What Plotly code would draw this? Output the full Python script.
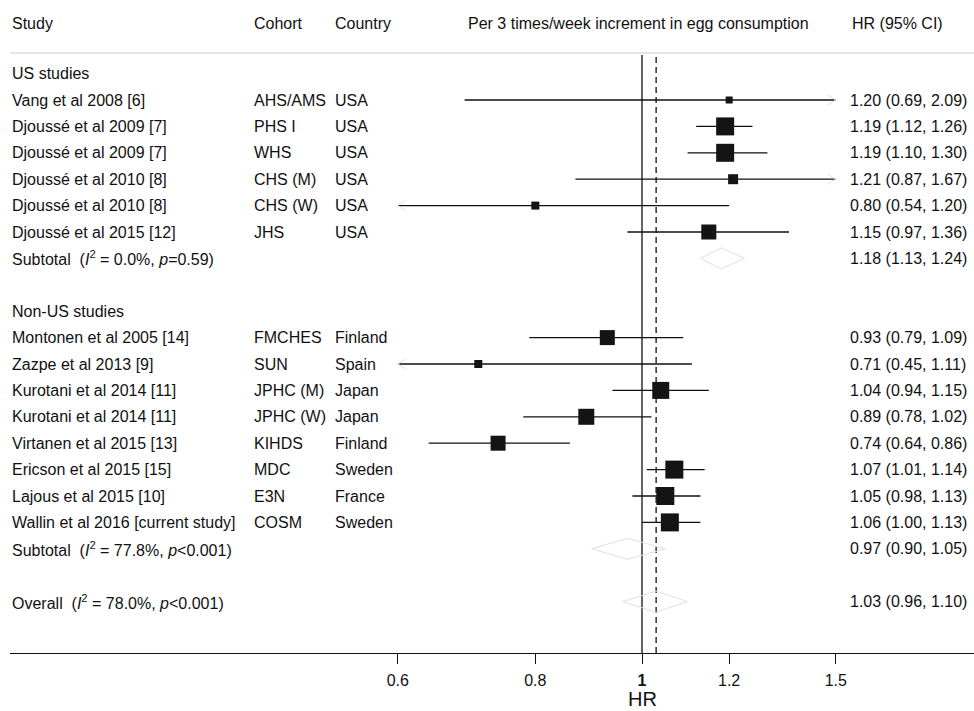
import math
import plotly.graph_objects as go

# ---------------- data ----------------
studies = ["Vang et al 2008 [6]", "Djoussé et al 2009 [7]", "Djoussé et al 2009 [7]",
           "Djoussé et al 2010 [8]", "Djoussé et al 2010 [8]", "Djoussé et al 2015 [12]",
           "Montonen et al 2005 [14]", "Zazpe et al 2013 [9]", "Kurotani et al 2014 [11]",
           "Kurotani et al 2014 [11]", "Virtanen et al 2015 [13]", "Ericson et al 2015 [15]",
           "Lajous et al 2015 [10]", "Wallin et al 2016 [current study]"]
cohorts = ["AHS/AMS", "PHS I", "WHS", "CHS (M)", "CHS (W)", "JHS",
           "FMCHES", "SUN", "JPHC (M)", "JPHC (W)", "KIHDS", "MDC", "E3N", "COSM"]
countries = ["USA", "USA", "USA", "USA", "USA", "USA",
             "Finland", "Spain", "Japan", "Japan", "Finland", "Sweden", "France", "Sweden"]
hr = [1.20, 1.19, 1.19, 1.21, 0.80, 1.15, 0.93, 0.71, 1.04, 0.89, 0.74, 1.07, 1.05, 1.06]
lo = [0.69, 1.12, 1.10, 0.87, 0.54, 0.97, 0.79, 0.45, 0.94, 0.78, 0.64, 1.01, 0.98, 1.00]
hi = [2.09, 1.26, 1.30, 1.67, 1.20, 1.36, 1.09, 1.11, 1.15, 1.02, 0.86, 1.14, 1.13, 1.13]
weights = [7, 18, 18, 10, 8, 15, 15, 8, 17, 16, 15, 18, 18, 18]   # marker sizes (px)
study_rows = [1, 2, 3, 4, 5, 6, 10, 11, 12, 13, 14, 15, 16, 17]

pooled_labels = ["Subtotal\u00a0 (<i>I</i><sup>2</sup> = 0.0%, <i>p</i>=0.59)",
                 "Subtotal\u00a0 (<i>I</i><sup>2</sup> = 77.8%, <i>p</i><0.001)",
                 "Overall\u00a0 (<i>I</i><sup>2</sup> = 78.0%, <i>p</i><0.001)"]
pooled_hr = [1.18, 0.97, 1.03]
pooled_lo = [1.13, 0.90, 0.96]
pooled_hi = [1.24, 1.05, 1.10]
pooled_rows = [7, 18, 20]

group_labels = ["US studies", "Non-US studies"]
group_rows = [0, 9]

tick_vals = [0.6, 0.8, 1, 1.2, 1.5]
tick_text = ["0.6", "0.8", "<b>1</b>", "1.2", "1.5"]
clip_lo, clip_hi = 0.6, 1.5
overall_hr = 1.03

# ---------------- layout geometry ----------------
W, H = 974, 711
L_PX, R_PX = 10, 974
AXIS_PX = 653
ROW0_PX, ROW_STEP = 73.6, 26.4
ONE_PX, PX_PER_LN = 642, 478
px_per_dec = PX_PER_LN * math.log(10)
x_range = [-(ONE_PX - L_PX) / px_per_dec, (R_PX - ONE_PX) / px_per_dec]
y_top = (0 - ROW0_PX) / ROW_STEP
y_bot = (AXIS_PX - ROW0_PX) / ROW_STEP

def px_row(p):
    return (p - ROW0_PX) / ROW_STEP

def paper_x(p):
    return (p - L_PX) / (R_PX - L_PX)

fig = go.Figure()

# CI lines (clipped)
lx, ly = [], []
ax_, ay_ = [], []
arm_dx = math.exp(8 / PX_PER_LN)
arm_dy = 5 / ROW_STEP
for r, a, b in zip(study_rows, lo, hi):
    a2, b2 = max(a, clip_lo), min(b, clip_hi)
    lx += [a2, b2, None]
    ly += [r, r, None]
    if b > clip_hi:
        ax_ += [b2 / arm_dx, b2, b2 / arm_dx, None]
        ay_ += [r - arm_dy, r, r + arm_dy, None]
    if a < clip_lo:
        ax_ += [a2 * arm_dx, a2, a2 * arm_dx, None]
        ay_ += [r - arm_dy, r, r + arm_dy, None]

fig.add_trace(go.Scatter(x=lx, y=ly, mode="lines",
                         line=dict(color="#111111", width=1.3), hoverinfo="skip"))
fig.add_trace(go.Scatter(x=ax_, y=ay_, mode="lines",
                         line=dict(color="#e2e2e2", width=1), hoverinfo="skip"))

# reference lines
fig.add_trace(go.Scatter(x=[1, 1], y=[px_row(55), y_bot], mode="lines",
                         line=dict(color="#111111", width=1.3), hoverinfo="skip"))
fig.add_trace(go.Scatter(x=[overall_hr, overall_hr], y=[px_row(57), y_bot], mode="lines",
                         line=dict(color="#111111", width=1.3, dash="6px,4px"), hoverinfo="skip"))

# diamonds
dx, dy = [], []
dh = 10.5 / ROW_STEP
for r, m, a, b in zip(pooled_rows, pooled_hr, pooled_lo, pooled_hi):
    dx += [a, m, b, m, a, None]
    dy += [r, r - dh, r, r + dh, r, None]
fig.add_trace(go.Scatter(x=dx, y=dy, mode="lines",
                         line=dict(color="#e0e0e0", width=1), hoverinfo="skip"))

# squares
fig.add_trace(go.Scatter(x=hr, y=study_rows, mode="markers",
                         marker=dict(symbol="square", size=weights, color="#141414",
                                     opacity=1, line=dict(width=0)), hoverinfo="skip"))

ann = []
FONT = "Liberation Sans, Arial, Helvetica, sans-serif"
TC = "#111111"

def txt(px, row, s, size=16, anchor="left", color=TC):
    ann.append(dict(x=paper_x(px), y=row, xref="paper", yref="y", text=s,
                    showarrow=False, xanchor=anchor, yanchor="middle",
                    font=dict(family=FONT, size=size, color=color)))

# headers
hrow = px_row(23)
txt(10, hrow, "Study")
txt(252, hrow, "Cohort")
txt(333, hrow, "Country")
txt(638.5, hrow, "Per 3 times/week increment in egg consumption", anchor="center")
txt(850, hrow, "HR (95% CI)")

for g, r in zip(group_labels, group_rows):
    txt(10, r, g)

for s, c, k, m, a, b, r in zip(studies, cohorts, countries, hr, lo, hi, study_rows):
    txt(10, r, s)
    txt(252, r, c)
    txt(333, r, k)
    txt(848, r, f"{m:.2f} ({a:.2f}, {b:.2f})")

for s, m, a, b, r in zip(pooled_labels, pooled_hr, pooled_lo, pooled_hi, pooled_rows):
    txt(10, r, s)
    txt(848, r, f"{m:.2f} ({a:.2f}, {b:.2f})")

# axis title
ann.append(dict(x=paper_x(ONE_PX), y=-(699 - AXIS_PX) / AXIS_PX, xref="paper", yref="paper",
                text="HR", showarrow=False, xanchor="center", yanchor="middle",
                font=dict(family=FONT, size=20, color=TC)))

shapes = [dict(type="line", xref="paper", yref="y", x0=0, x1=1,
               y0=px_row(53), y1=px_row(53), line=dict(color="#cccccc", width=1))]

fig.update_layout(
    width=W, height=H,
    margin=dict(l=L_PX, r=W - R_PX, t=0, b=H - AXIS_PX, pad=0),
    paper_bgcolor="white", plot_bgcolor="white",
    showlegend=False,
    annotations=ann, shapes=shapes,
    xaxis=dict(type="log", range=x_range, showgrid=False, zeroline=False,
               showline=True, linecolor="#111111", linewidth=1.3,
               ticks="outside", ticklen=10, tickcolor="#111111", tickwidth=1.3,
               tickvals=tick_vals, ticktext=tick_text, ticklabelstandoff=3,
               tickfont=dict(family=FONT, size=16, color=TC), fixedrange=True),
    yaxis=dict(range=[y_bot, y_top], visible=False, fixedrange=True),
)

fig.write_html("out.html", config={"displayModeBar": False},
               post_script="document.body.style.margin='0';document.body.style.overflow='hidden';")
